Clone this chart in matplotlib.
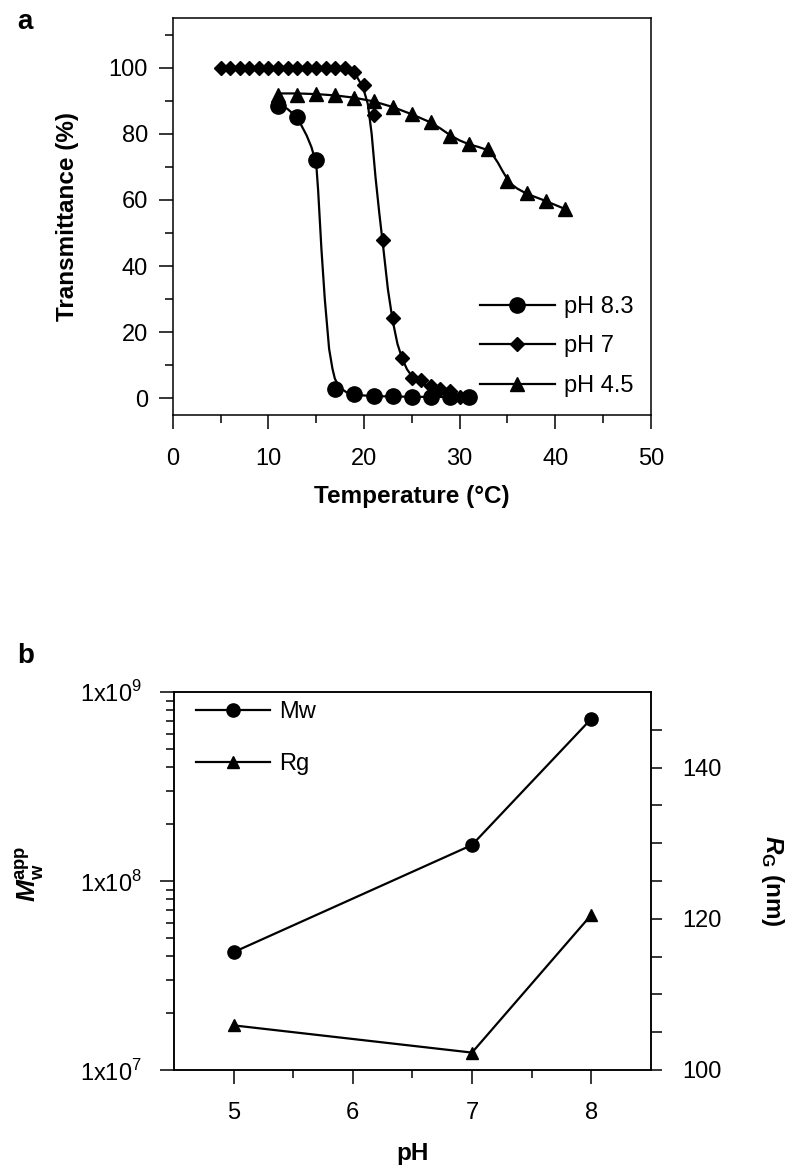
import matplotlib.pyplot as plt
from matplotlib.ticker import MultipleLocator, FixedLocator, LogLocator, NullFormatter
from matplotlib.legend_handler import HandlerTuple

plt.rcParams['font.family'] = ['Liberation Sans', 'DejaVu Sans']
plt.rcParams['mathtext.fontset'] = 'custom'
plt.rcParams['mathtext.rm'] = 'Liberation Sans'
plt.rcParams['mathtext.bf'] = 'Liberation Sans:bold'
plt.rcParams['mathtext.bfit'] = 'Liberation Sans:bold:italic'

# --- panel a: transmittance vs temperature ---
temp_83 = [11, 13, 15, 17, 19, 21, 23, 25, 27, 29, 31]
trans_83 = [88.5, 85.0, 72.1, 3.0, 1.3, 0.8, 0.6, 0.5, 0.5, 0.4, 0.4]

temp_7 = [5, 6, 7, 8, 9, 10, 11, 12, 13, 14, 15, 16, 17, 18, 19, 20, 21, 22, 23,
          24, 25, 26, 27, 28, 29, 30]
trans_7 = [100, 100, 100, 100, 100, 100, 100, 100, 100, 100, 100, 100, 100, 100,
           98.6, 94.8, 85.6, 47.8, 24.2, 12.2, 6.3, 5.7, 3.8, 2.8, 2.3, 0.3]

temp_45 = [11, 13, 15, 17, 19, 21, 23, 25, 27, 29, 31, 33, 35, 37, 39, 41]
trans_45 = [91.8, 91.8, 92.0, 91.6, 90.9, 89.8, 88.1, 85.9, 83.6, 79.3, 76.8, 75.3,
            65.6, 62.0, 59.8, 57.3]

# fitted curves
fit_t_83 = [11, 12, 13, 14, 14.5, 15, 15.2, 15.55, 15.9, 16.35, 16.7, 16.95, 17.3,
            17.7, 18.2, 19, 21, 25, 31]
fit_v_83 = [89, 87.5, 85, 79.5, 76, 71, 63, 45, 30, 15, 9, 6, 4, 2.8, 1.8, 1.1,
            0.7, 0.5, 0.4]

fit_t_7 = [5, 18, 18.6, 19.2, 19.9, 20.4, 20.8, 21.2, 21.6, 22.0, 22.5, 23.0, 23.5,
           24.0, 24.5, 25, 26, 27, 28, 29, 30]
fit_v_7 = [100, 100, 99, 97.5, 94, 89, 80, 67, 56, 46, 33, 23.5, 16.5, 12, 8.8,
           6.8, 4.6, 3.3, 2.3, 1.4, 0.8]

fit_t_45 = [11, 13, 15, 17, 19, 21, 23, 25, 27, 28, 29, 30, 31, 32, 33, 33.5, 34,
            34.5, 35, 35.5, 36, 37, 38, 39, 40, 41]
fit_v_45 = [92.2, 92.2, 92.0, 91.6, 90.9, 89.8, 88.1, 85.9, 83.4, 81.6, 79.6, 78.0,
            76.8, 76.0, 75.0, 73.5, 71.3, 68.7, 66.3, 64.6, 63.5, 61.9, 60.8, 59.7,
            58.5, 57.3]

# --- panel b: Mw and Rg vs pH ---
ph = [5, 7, 8]
mw = [4.2e7, 1.55e8, 7.2e8]
rg = [105.9, 102.3, 120.5]

TICK_FS = 17
LABEL_FS = 17.5

fig = plt.figure(figsize=(8, 11.69), dpi=100)
ax = fig.add_axes([0.216, 0.645, 0.5975, 0.3396])

m1, = ax.plot(temp_83, trans_83, 'ko', ms=11, ls='none')
c1, = ax.plot(fit_t_83, fit_v_83, 'k-', lw=1.6)
m2, = ax.plot(temp_7, trans_7, 'kD', ms=7, ls='none')
c2, = ax.plot(fit_t_7, fit_v_7, 'k-', lw=1.6)
m3, = ax.plot(temp_45, trans_45, 'k^', ms=10, ls='none')
c3, = ax.plot(fit_t_45, fit_v_45, 'k-', lw=1.6)

ax.set_xlim(0, 50)
ax.set_ylim(-5, 115)
ax.xaxis.set_major_locator(MultipleLocator(10))
ax.xaxis.set_minor_locator(MultipleLocator(5))
ax.yaxis.set_major_locator(FixedLocator([0, 20, 40, 60, 80, 100]))
ax.yaxis.set_minor_locator(FixedLocator([10, 30, 50, 70, 90, 110]))
ax.tick_params(which='both', direction='out', width=1.1, labelsize=TICK_FS,
               top=False, right=False)
ax.tick_params(axis='x', which='major', length=10, pad=14)
ax.tick_params(axis='y', which='major', length=10, pad=8)
ax.tick_params(which='minor', length=5.5)
for s in ax.spines.values():
    s.set_linewidth(1.1)
ax.set_xlabel('Temperature (°C)', fontsize=LABEL_FS, fontweight='bold', va='center')
ax.set_ylabel('Transmittance (%)', fontsize=LABEL_FS, fontweight='bold', va='center')
ax.xaxis.set_label_coords(0.5, -0.2065)
ax.yaxis.set_label_coords(-0.22, 0.5)
ax.legend([(c1, m1), (c2, m2), (c3, m3)], ['pH 8.3', 'pH 7', 'pH 4.5'],
          handler_map={tuple: HandlerTuple(ndivide=1, pad=0)},
          loc='upper left', bbox_to_anchor=(0.642, 0.30), frameon=False,
          fontsize=TICK_FS, handlelength=3.2, labelspacing=0.74, handletextpad=0.38,
          borderpad=0, borderaxespad=0)

# panel b
bx = fig.add_axes([0.2175, 0.0847, 0.596, 0.3234])
bx2 = bx.twinx()
p1, = bx.plot(ph, mw, 'k-o', lw=1.6, ms=9.5)
p2, = bx2.plot(ph, rg, 'k-^', lw=1.6, ms=9)

bx.set_yscale('log')
bx.set_ylim(1e7, 1e9)
bx.set_xlim(4.5, 8.5)
bx.yaxis.set_major_locator(FixedLocator([1e7, 1e8, 1e9]))
bx.set_yticklabels(['1x10$^{7}$', '1x10$^{8}$', '1x10$^{9}$'])
bx.yaxis.set_minor_locator(LogLocator(base=10, subs=(2, 3, 4, 5, 6, 7, 8, 9)))
bx.yaxis.set_minor_formatter(NullFormatter())
bx.xaxis.set_major_locator(FixedLocator([5, 6, 7, 8]))
bx.xaxis.set_minor_locator(FixedLocator([5.5, 6.5, 7.5]))
bx.tick_params(which='both', direction='out', width=1.1, labelsize=TICK_FS, top=False)
bx.tick_params(axis='x', which='major', length=10, pad=13)
bx.tick_params(axis='y', which='major', length=10, pad=13)
bx.tick_params(which='minor', length=5.5)

bx2.set_ylim(100, 150)
bx2.yaxis.set_major_locator(FixedLocator([100, 120, 140]))
bx2.yaxis.set_minor_locator(FixedLocator([105, 110, 115, 125, 130, 135, 145]))
bx2.tick_params(which='both', direction='out', width=1.1, labelsize=TICK_FS, length=8)
bx2.tick_params(axis='y', which='major', pad=15)
for a in (bx, bx2):
    for s in a.spines.values():
        s.set_linewidth(1.1)

bx.set_xlabel('pH', fontsize=LABEL_FS, fontweight='bold', va='center')
bx.xaxis.set_label_coords(0.5, -0.22)
bx.set_ylabel(r'$\mathbfit{M}_{\mathbf{w}}^{\mathbf{app}}$', fontsize=19, va='center')
bx.yaxis.set_label_coords(-0.302, 0.52)
bx2.set_ylabel(r'$\mathbfit{R}_{\mathbf{G}}$ (nm)', fontsize=LABEL_FS, fontweight='bold',
               rotation=270, va='center')
bx2.yaxis.set_label_coords(1.256, 0.5)

bx2.legend([p1, p2], ['Mw', 'Rg'], loc='upper left', bbox_to_anchor=(0.046, 0.976),
           frameon=False, fontsize=TICK_FS, handlelength=3.15, labelspacing=1.27,
           handletextpad=0.38, borderpad=0, borderaxespad=0)

fig.text(0.021, 0.9752, 'a', fontsize=20, fontweight='bold', va='baseline')
fig.text(0.021, 0.4328, 'b', fontsize=20, fontweight='bold', va='baseline')

fig.savefig('out.png', dpi=100)
